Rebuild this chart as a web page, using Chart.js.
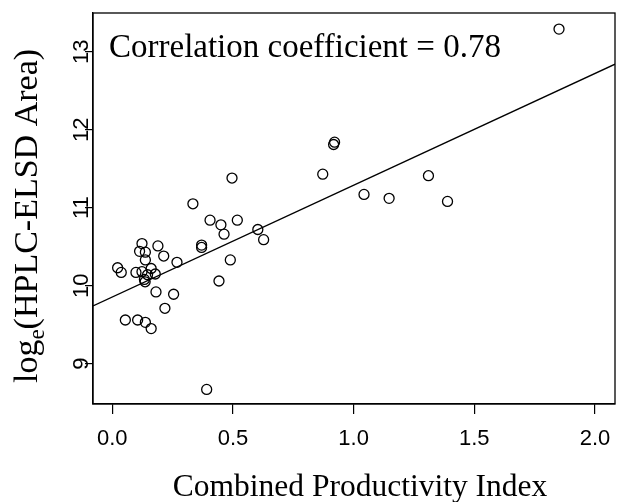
<!DOCTYPE html>
<html>
<head>
<meta charset="utf-8">
<script src="https://cdn.jsdelivr.net/npm/chart.js@4.4.1/dist/chart.umd.min.js"></script>
<style>
  html, body { margin: 0; padding: 0; background: #fff; }
  #chart { display: block; }
</style>
</head>
<body>
<canvas id="chart" width="617" height="502"></canvas>
<script>
// Данные точек
const xVals = [1.851, 0.921, 0.917, 0.872, 1.043, 1.147, 1.310, 1.389, 0.496, 0.334,
               0.405, 0.450, 0.518, 0.463, 0.603, 0.627, 0.370, 0.370, 0.489, 0.442,
               0.391, 0.268, 0.123, 0.113, 0.137, 0.189, 0.213, 0.137, 0.022, 0.037,
               0.098, 0.123, 0.161, 0.146, 0.178, 0.133, 0.136, 0.181, 0.254, 0.218,
               0.054, 0.105, 0.137, 0.161];
const yVals = [13.29, 11.84, 11.81, 11.43, 11.17, 11.12, 11.41, 11.08, 11.38, 11.05,
               10.84, 10.78, 10.84, 10.66, 10.72, 10.59, 10.52, 10.49, 10.33, 10.06,
               8.67, 10.30, 10.54, 10.44, 10.43, 10.51, 10.38, 10.33, 10.23, 10.17,
               10.17, 10.18, 10.22, 10.14, 10.15, 10.08, 10.05, 9.92, 9.89, 9.71,
               9.56, 9.56, 9.53, 9.45];

// Линия регрессии
const fitX = [-0.08, 2.083];
const fitY = [9.74, 12.84];

const xTicks = [0, 0.5, 1.0, 1.5, 2.0];
const yTicks = [9, 10, 11, 12, 13];

const serif = '"Liberation Serif", "Times New Roman", serif';
const sans = '"Liberation Sans", Arial, sans-serif';

// Рамка и подписи
const decorations = {
    id: 'decorations',
    afterDraw(chart) {
        const { ctx, chartArea: a } = chart;
        ctx.save();
        ctx.strokeStyle = '#000';
        ctx.lineWidth = 1.3;
        ctx.strokeRect(a.left, a.top, a.right - a.left, a.bottom - a.top);

        ctx.fillStyle = '#000';
        ctx.textBaseline = 'alphabetic';
        ctx.font = '33px ' + serif;
        ctx.textAlign = 'left';
        ctx.fillText('Correlation coefficient = 0.78', 109, 57);

        ctx.font = '31.5px ' + serif;
        ctx.textAlign = 'center';
        ctx.fillText('Combined Productivity Index', 360, 496);

        // подпись оси Y с индексом
        const big = '34px ' + serif, small = '23px ' + serif;
        ctx.font = big;
        const w1 = ctx.measureText('log').width;
        const w3 = ctx.measureText('(HPLC-ELSD Area)').width;
        ctx.font = small;
        const w2 = ctx.measureText('e').width;
        const total = w1 + w2 + w3;
        ctx.translate(37, 216);
        ctx.rotate(-Math.PI / 2);
        ctx.textAlign = 'left';
        let x0 = -total / 2;
        ctx.font = big;
        ctx.fillText('log', x0, 0);
        ctx.font = small;
        ctx.fillText('e', x0 + w1, 7);
        ctx.font = big;
        ctx.fillText('(HPLC-ELSD Area)', x0 + w1 + w2, 0);
        ctx.restore();
    }
};

const ctx = document.getElementById('chart').getContext('2d');
const chart = new Chart(ctx, {
    type: 'scatter',
    data: {
        datasets: [{
            data: xVals.map((x, i) => ({ x: x, y: yVals[i] })),
            pointStyle: 'circle',
            pointRadius: 5,
            borderColor: '#000',
            backgroundColor: 'rgba(0,0,0,0)',
            borderWidth: 1.3
        }, {
            type: 'line',
            data: fitX.map((x, i) => ({ x: x, y: fitY[i] })),
            borderColor: '#000',
            borderWidth: 1.4,
            pointRadius: 0,
            fill: false
        }]
    },
    options: {
        responsive: false,
        animation: false,
        layout: { autoPadding: false, padding: { top: 13, right: 2, left: 0, bottom: 0 } },
        plugins: {
            legend: { display: false },
            tooltip: { enabled: false }
        },
        scales: {
            x: {
                type: 'linear',
                min: -0.08,
                max: 2.083,
                afterBuildTicks: s => { s.ticks = xTicks.map(v => ({ value: v })); },
                afterFit: s => { s.height = 98; s.paddingLeft = 0; s.paddingRight = 0; },
                grid: { drawOnChartArea: false, tickLength: 10, color: '#000', lineWidth: 1.2 },
                border: { display: true, color: '#000', width: 1.3 },
                ticks: {
                    color: '#000',
                    font: { family: sans, size: 22 },
                    padding: 12,
                    maxRotation: 0,
                    autoSkip: false,
                    callback: v => v.toFixed(1)
                }
            },
            y: {
                min: 8.483,
                max: 13.496,
                afterBuildTicks: s => { s.ticks = yTicks.map(v => ({ value: v })); },
                afterFit: s => { s.width = 93; s.paddingTop = 0; s.paddingBottom = 0; },
                grid: { drawOnChartArea: false, tickLength: 8, color: '#000', lineWidth: 1.2 },
                border: { display: true, color: '#000', width: 1.3 },
                ticks: {
                    color: '#000',
                    font: { family: sans, size: 22 },
                    minRotation: 90,
                    maxRotation: 90,
                    crossAlign: 'center',
                    padding: -9,
                    autoSkip: false,
                    callback: v => String(v)
                }
            }
        }
    },
    plugins: [decorations]
});
</script>
</body>
</html>
